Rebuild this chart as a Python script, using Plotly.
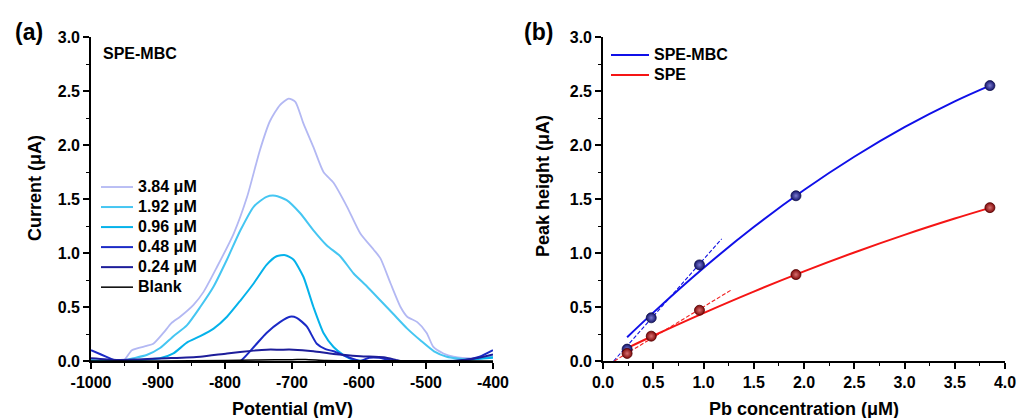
import plotly.graph_objects as go

# ---------------- Panel (a): DPV curves ----------------
pot_384 = [-1000, -952, -939, -917, -907, -892, -880, -867, -847, -832, -812, -787, -767, -748, -733, -718,
           -705, -695, -683, -668, -653, -638, -618, -598, -578, -568, -553, -538, -528, -513, -499, -489,
           -474, -459, -429, -400]
cur_384 = [-0.02, 0.0, 0.10, 0.14, 0.16, 0.26, 0.35, 0.41, 0.52, 0.64, 0.87, 1.18, 1.52, 1.95, 2.22, 2.37,
           2.43, 2.40, 2.20, 1.98, 1.75, 1.65, 1.43, 1.18, 1.03, 0.95, 0.72, 0.50, 0.41, 0.36, 0.26, 0.13,
           0.07, 0.04, 0.025, 0.04]

pot_192 = [-1000, -957, -937, -917, -897, -877, -857, -837, -817, -797, -777, -757, -738, -725, -708, -688,
           -668, -648, -628, -608, -588, -568, -548, -528, -508, -488, -469, -439, -400]
cur_192 = [0.01, 0.0, 0.025, 0.055, 0.12, 0.23, 0.33, 0.50, 0.69, 0.94, 1.21, 1.43, 1.52, 1.53, 1.49, 1.37,
           1.21, 1.07, 0.97, 0.81, 0.69, 0.56, 0.43, 0.30, 0.19, 0.09, 0.04, 0.015, 0.04]

pot_096 = [-1000, -947, -927, -897, -877, -857, -837, -817, -797, -777, -757, -738, -723, -710, -698, -683,
           -668, -653, -638, -623, -608, -588, -500, -450, -420, -400]
cur_096 = [0.0, 0.0, 0.01, 0.025, 0.07, 0.17, 0.23, 0.30, 0.41, 0.56, 0.72, 0.89, 0.97, 0.98, 0.94, 0.78,
           0.50, 0.26, 0.13, 0.055, 0.01, 0.0, 0.0, 0.005, 0.02, 0.03]

pot_048 = [-1000, -985, -970, -962, -900, -800, -777, -757, -738, -718, -703, -693, -678, -663, -650, -638,
           -618, -598, -585, -570, -555, -540, -450, -420, -400]
cur_048 = [0.10, 0.06, 0.02, 0.0, -0.05, -0.05, 0.0, 0.13, 0.26, 0.36, 0.41, 0.40, 0.32, 0.16, 0.11, 0.09,
           0.04, 0.0, 0.03, 0.03, 0.01, 0.0, 0.0, 0.04, 0.10]

pot_024 = [-1000, -962, -930, -887, -837, -797, -757, -738, -718, -698, -668, -638, -598, -563, -545, -538,
           -460, -430, -400]
cur_024 = [0.025, 0.01, 0.015, 0.025, 0.04, 0.07, 0.096, 0.105, 0.105, 0.105, 0.09, 0.065, 0.045, 0.035,
           0.01, 0.0, 0.0, 0.02, 0.06]

pot_blank = [-1000, -900, -800, -750, -700, -680, -650, -600, -500, -400]
cur_blank = [0.0, 0.0, 0.005, 0.01, 0.012, 0.015, 0.005, 0.003, 0.002, 0.0]

series_names_a = ["3.84 \u03bcM", "1.92 \u03bcM", "0.96 \u03bcM", "0.48 \u03bcM", "0.24 \u03bcM", "Blank"]

x_ticks_a = [-1000, -900, -800, -700, -600, -500, -400]
x_ticklabels_a = ["-1000", "-900", "-800", "-700", "-600", "-500", "-400"]
y_ticks = [0.0, 0.5, 1.0, 1.5, 2.0, 2.5, 3.0]
y_ticklabels = ["0.0", "0.5", "1.0", "1.5", "2.0", "2.5", "3.0"]

# ---------------- Panel (b): calibration ----------------
conc = [0.24, 0.48, 0.96, 1.92, 3.85]
peak_mbc = [0.11, 0.40, 0.89, 1.53, 2.55]
peak_spe = [0.07, 0.23, 0.47, 0.80, 1.42]

fit_x = [0.24, 0.5, 1.0, 1.5, 2.0, 2.5, 3.0, 3.5, 3.85]
fit_mbc = [0.22, 0.448, 0.861, 1.24, 1.583, 1.891, 2.165, 2.404, 2.55]
fit_spe = [0.12, 0.234, 0.444, 0.643, 0.83, 1.005, 1.168, 1.319, 1.418]

lin_x_mbc = [0.106, 1.18]
lin_y_mbc = [0.0, 1.13]
lin_x_spe = [0.113, 1.28]
lin_y_spe = [0.0, 0.66]

series_names_b = ["SPE-MBC", "SPE"]

x_ticks_b = [0.0, 0.5, 1.0, 1.5, 2.0, 2.5, 3.0, 3.5, 4.0]
x_ticklabels_b = ["0.0", "0.5", "1.0", "1.5", "2.0", "2.5", "3.0", "3.5", "4.0"]

# ---------------- styling ----------------
W, H = 1017, 418
FONT = "Arial, Liberation Sans, sans-serif"
colors_a = ["#b3b8f3", "#45c6f2", "#05b2ea", "#1b2ac6", "#1d1d9a", "#000000"]
widths_a = [1.8, 2, 2, 2, 2, 1.5]


def px(x):
    return x / W


def py(y):
    return 1 - y / H


def big(name):
    # legend text drawn at 16px while the row spacing follows the (smaller) legend font
    return '<span style="font-size:16px">' + name + "</span>"


fig = go.Figure()

data_a = [(pot_384, cur_384), (pot_192, cur_192), (pot_096, cur_096),
          (pot_048, cur_048), (pot_024, cur_024), (pot_blank, cur_blank)]
for (xs, ys), name, c, w in zip(data_a, series_names_a, colors_a, widths_a):
    fig.add_trace(go.Scatter(x=xs, y=ys, mode="lines", name=big(name),
                             line=dict(color=c, width=w, shape="spline", smoothing=0.6),
                             xaxis="x", yaxis="y", legend="legend"))

# panel b
fig.add_trace(go.Scatter(x=lin_x_mbc, y=lin_y_mbc, mode="lines", showlegend=False,
                         line=dict(color="#1010e0", width=1.1, dash="4px,2px"), xaxis="x2", yaxis="y2"))
fig.add_trace(go.Scatter(x=lin_x_spe, y=lin_y_spe, mode="lines", showlegend=False,
                         line=dict(color="#f02020", width=1.1, dash="4px,2px"), xaxis="x2", yaxis="y2"))
fig.add_trace(go.Scatter(x=fit_x, y=fit_mbc, mode="lines", name=big(series_names_b[0]),
                         line=dict(color="#1010e8", width=2, shape="spline"),
                         xaxis="x2", yaxis="y2", legend="legend2"))
fig.add_trace(go.Scatter(x=fit_x, y=fit_spe, mode="lines", name=big(series_names_b[1]),
                         line=dict(color="#f51515", width=2, shape="spline"),
                         xaxis="x2", yaxis="y2", legend="legend2"))
fig.add_trace(go.Scatter(x=conc, y=peak_mbc, mode="markers", showlegend=False,
                         marker=dict(size=10, color="#14146a",
                                     gradient=dict(type="radial", color="#7a7ad0"),
                                     line=dict(color="#10104a", width=0.8)),
                         xaxis="x2", yaxis="y2"))
fig.add_trace(go.Scatter(x=conc, y=peak_spe, mode="markers", showlegend=False,
                         marker=dict(size=10, color="#800808",
                                     gradient=dict(type="radial", color="#d87070"),
                                     line=dict(color="#500000", width=0.8)),
                         xaxis="x2", yaxis="y2"))

tickfont = dict(family=FONT, size=16, color="black", weight="bold")
axis_common = dict(showline=True, linecolor="black", linewidth=1.6, mirror=False,
                   ticks="outside", ticklen=6, tickwidth=1.5, tickcolor="black",
                   showgrid=False, zeroline=False, tickfont=tickfont, automargin=False)


def minor(t0, dt):
    return dict(tickmode="linear", tick0=t0, dtick=dt, ticks="outside",
                ticklen=3, tickwidth=1.2, tickcolor="black", showgrid=False)


ytop, ybot = 37, 361
fig.update_layout(
    width=W, height=H,
    margin=dict(l=0, r=0, t=0, b=0, autoexpand=False),
    paper_bgcolor="white", plot_bgcolor="white",
    font=dict(family=FONT, color="black"),
    xaxis=dict(domain=[px(91), px(493)], range=[-1000, -400], anchor="y",
               tickmode="array", tickvals=x_ticks_a, ticktext=x_ticklabels_a,
               minor=minor(-1000, 50), **axis_common),
    yaxis=dict(domain=[py(ybot), py(ytop)], range=[0, 3], anchor="x",
               tickmode="array", tickvals=y_ticks, ticktext=y_ticklabels,
               minor=minor(0, 0.25), **axis_common),
    xaxis2=dict(domain=[px(603), px(1005)], range=[0, 4], anchor="y2",
                tickmode="array", tickvals=x_ticks_b, ticktext=x_ticklabels_b,
                minor=minor(0, 0.25), **axis_common),
    yaxis2=dict(domain=[py(ybot), py(ytop)], range=[0, 3], anchor="x2",
                tickmode="array", tickvals=y_ticks, ticktext=y_ticklabels,
                minor=minor(0, 0.25), **axis_common),
    legend=dict(x=px(96), y=py(172), xanchor="left", yanchor="top",
                bgcolor="rgba(0,0,0,0)", borderwidth=0, itemwidth=32,
                tracegroupgap=0, traceorder="normal",
                font=dict(family=FONT, size=13.1, color="black", weight="bold")),
    legend2=dict(x=px(606), y=py(40), xanchor="left", yanchor="top",
                 bgcolor="rgba(0,0,0,0)", borderwidth=0, itemwidth=38,
                 traceorder="normal",
                 font=dict(family=FONT, size=13.1, color="black", weight="bold")),
)

ann_font = dict(family=FONT, size=18, color="black", weight="bold")
annotations = [
    dict(text="(a)", x=px(29), y=py(32), font=dict(family=FONT, size=23, color="black", weight="bold")),
    dict(text="(b)", x=px(538), y=py(32), font=dict(family=FONT, size=23, color="black", weight="bold")),
    dict(text="SPE-MBC", x=px(140), y=py(53), font=dict(family=FONT, size=16, color="black", weight="bold")),
    dict(text="Current (\u03bcA)", x=px(35), y=py(188), textangle=-90, font=ann_font),
    dict(text="Potential (mV)", x=px(292), y=py(409), font=ann_font),
    dict(text="Peak height (\u03bcA)", x=px(543), y=py(186), textangle=-90, font=ann_font),
    dict(text="Pb concentration (\u03bcM)", x=px(804), y=py(409), font=ann_font),
]
for a in annotations:
    fig.add_annotation(xref="paper", yref="paper", showarrow=False,
                       xanchor="center", yanchor="middle", **a)

fig.write_html("out.html", config={"displayModeBar": False},
               post_script="document.body.style.margin='0';")
